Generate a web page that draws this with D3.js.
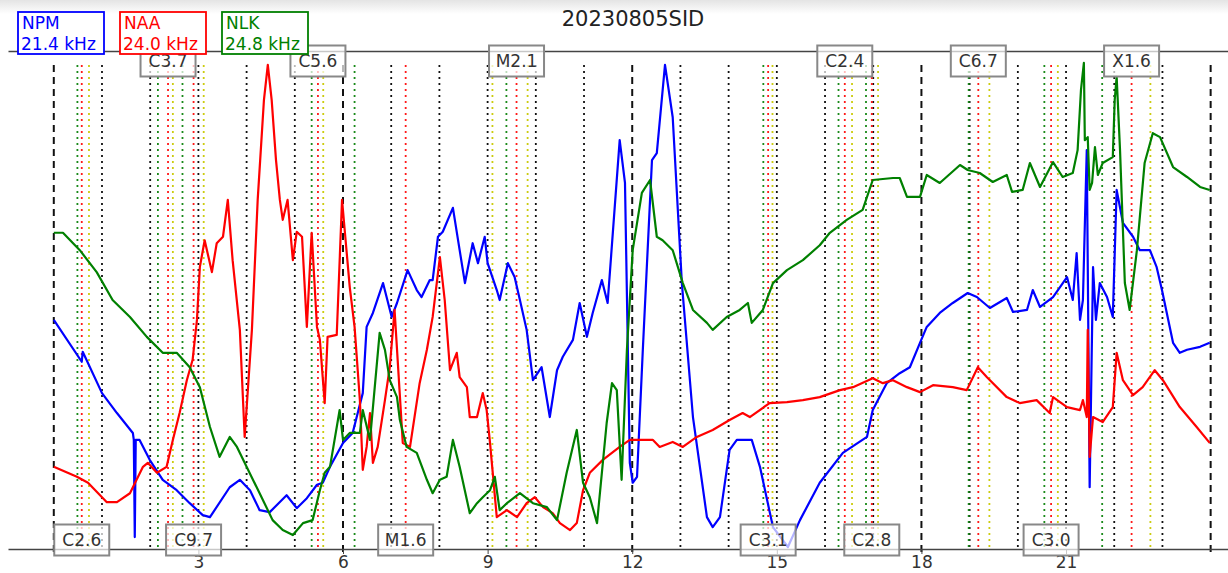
<!DOCTYPE html>
<html>
<head>
<meta charset="utf-8">
<script src="https://cdn.jsdelivr.net/npm/d3@7"></script>
<style>
body { margin: 0; background: #fff; }
svg { display: block; font-family: "DejaVu Sans", sans-serif; }
</style>
</head>
<body>
<script>
var title = "20230805SID";
var hourTicks = [3, 6, 9, 12, 15, 18, 21];
var stations = ["NPM", "NAA", "NLK"];
var freqs = ["21.4 kHz", "24.0 kHz", "24.8 kHz"];
var colors = ["#0000ff", "#ff0000", "#008000"];

// flares of the day, hours UT: begin (green), max (red), end (yellow)
var flareClass = ["C2.6", "C3.7", "C9.7", "C5.6", "M1.6", "M2.1", "C3.1", "C2.4", "C2.8", "C6.7", "C3.0", "X1.6"];
var flareStart = [0.49, 2.16, 2.67, 5.35, 6.24, 9.39, 14.72, 16.28, 16.85, 18.98, 20.55, 21.75];
var flarePeak  = [0.58, 2.37, 2.90, 5.48, 7.30, 9.60, 14.82, 16.41, 16.97, 19.18, 20.69, 22.36];
var flareEnd   = [0.73, 2.47, 3.11, 5.59, 9.10, 9.83, 14.91, 16.56, 17.10, 19.41, 20.83, 22.75];

// [hour, signal]
var npm = [[0,46.0],[0.58,37.6],[0.60,39.6],[1.00,31.3],[1.31,27.3],[1.64,23.3],[1.66,21.9],[1.68,2.4],[1.70,21.9],[1.78,21.9],[1.99,17.9],[2.26,13.9],[2.55,11.8],[2.82,9.2],[3.09,6.8],[3.24,6.4],[3.65,12.4],[3.86,13.9],[4.07,11.8],[4.27,7.8],[4.48,7.4],[4.83,10.8],[5.04,8.2],[5.25,10.2],[5.46,12.9],[5.58,13.3],[5.73,16.5],[6.00,21.3],[6.20,23.3],[6.41,31.3],[6.49,44.6],[6.62,47.4],[6.83,53.4],[7.01,46.6],[7.12,49.4],[7.34,56.0],[7.53,52.0],[7.63,50.6],[7.80,54.0],[7.86,54.0],[7.97,62.7],[8.07,63.7],[8.28,68.5],[8.42,60.0],[8.53,53.4],[8.69,61.4],[8.80,57.4],[8.94,62.7],[9.00,57.4],[9.19,52.0],[9.25,50.0],[9.42,57.4],[9.56,54.6],[9.67,50.0],[9.81,44.0],[9.94,33.9],[10.12,36.5],[10.29,26.5],[10.44,35.9],[10.56,38.6],[10.77,42.0],[10.91,49.4],[11.06,42.6],[11.18,47.4],[11.37,54.0],[11.49,49.4],[11.74,82.1],[11.85,73.5],[11.95,17.3],[12.01,13.3],[12.10,14.5],[12.22,40.0],[12.41,78.1],[12.51,79.5],[12.68,97.2],[12.84,86.7],[13.03,53.4],[13.26,26.5],[13.55,6.4],[13.67,4.4],[13.82,6.4],[14.02,19.9],[14.17,21.9],[14.48,21.9],[14.65,16.5],[14.92,4.4],[15.23,0.4],[15.48,5.8],[15.89,13.3],[16.37,19.3],[16.87,22.5],[16.99,27.9],[17.28,33.3],[17.55,35.3],[17.76,36.5],[17.97,41.4],[18.11,44.6],[18.38,47.4],[18.65,49.4],[18.96,51.4],[19.15,50.6],[19.42,48.4],[19.77,50.4],[19.90,47.6],[20.19,48.0],[20.31,52.0],[20.46,48.6],[20.73,50.6],[21.02,54.6],[21.14,50.0],[21.22,59.4],[21.29,46.0],[21.35,50.0],[21.43,80.1],[21.49,12.4],[21.56,56.6],[21.62,46.0],[21.70,53.4],[21.85,50.6],[21.97,46.6],[22.05,72.1],[22.18,65.5],[22.39,62.7],[22.53,60.0],[22.74,60.0],[22.88,56.6],[22.99,52.0],[23.09,47.4],[23.22,41.4],[23.36,39.4],[23.51,40.0],[23.78,40.6],[23.98,41.4]];

var naa = [[0,16.5],[0.48,14.5],[0.71,13.3],[1.10,9.4],[1.31,9.4],[1.58,11.2],[1.85,16.5],[1.95,17.3],[2.14,15.3],[2.34,16.5],[2.47,21.9],[2.61,27.3],[2.76,33.9],[2.88,38.0],[2.97,46.0],[3.03,56.6],[3.13,62.0],[3.28,55.6],[3.38,61.4],[3.51,62.7],[3.61,70.1],[3.71,58.0],[3.86,44.0],[3.96,22.5],[4.11,44.0],[4.23,70.1],[4.36,90.2],[4.44,97.2],[4.52,90.2],[4.61,78.1],[4.69,70.1],[4.75,66.1],[4.85,70.1],[4.96,58.0],[5.04,63.7],[5.15,62.7],[5.25,44.6],[5.35,63.5],[5.46,44.6],[5.52,42.0],[5.62,29.3],[5.68,42.6],[5.87,43.0],[5.98,70.1],[6.04,63.5],[6.14,52.6],[6.24,44.6],[6.35,29.9],[6.41,15.9],[6.49,20.5],[6.56,27.3],[6.62,17.3],[6.72,20.5],[6.87,29.9],[6.97,36.5],[7.07,48.0],[7.24,21.3],[7.39,20.5],[7.59,33.3],[7.74,40.0],[7.86,46.6],[8.01,58.6],[8.11,50.0],[8.22,35.9],[8.36,39.4],[8.42,34.5],[8.57,32.5],[8.63,26.5],[8.78,26.5],[8.90,31.3],[8.98,27.9],[9.05,21.3],[9.19,6.4],[9.40,7.8],[9.61,6.4],[9.81,9.2],[9.98,10.4],[10.15,8.4],[10.35,7.2],[10.50,5.2],[10.71,3.8],[10.85,5.2],[10.98,11.8],[11.12,15.3],[11.39,17.9],[11.74,20.5],[11.95,21.9],[12.43,21.9],[12.57,20.5],[12.84,21.5],[13.05,20.5],[13.34,22.5],[13.67,23.9],[14.02,25.9],[14.29,27.3],[14.44,26.5],[14.85,29.3],[15.21,29.5],[15.54,29.9],[15.89,30.5],[16.31,31.9],[16.58,32.5],[16.99,34.3],[17.20,33.3],[17.41,33.9],[17.70,32.5],[17.97,31.5],[18.24,32.9],[18.65,32.5],[18.94,31.9],[19.17,36.5],[19.36,34.5],[19.77,30.5],[20.04,29.3],[20.39,29.9],[20.66,27.3],[20.73,30.5],[21.02,28.5],[21.29,27.9],[21.35,29.9],[21.43,26.5],[21.45,44.0],[21.49,18.5],[21.56,26.5],[21.76,25.5],[21.97,28.5],[22.05,39.4],[22.18,33.9],[22.39,30.9],[22.59,32.5],[22.84,35.9],[23.01,33.9],[23.36,28.5],[23.71,24.5],[23.98,21.3]];

var nlk = [[0,63.5],[0.19,63.5],[0.54,60.0],[0.89,55.6],[1.22,50.0],[1.58,46.6],[1.93,42.6],[2.26,39.4],[2.55,39.4],[2.82,36.5],[3.03,32.5],[3.24,24.5],[3.44,18.5],[3.65,22.5],[3.80,20.5],[4.00,16.5],[4.27,11.2],[4.54,5.8],[4.75,3.8],[4.96,2.8],[5.17,5.2],[5.37,5.8],[5.52,11.8],[5.62,15.3],[5.73,16.5],[5.93,27.9],[6.00,21.9],[6.14,23.3],[6.35,23.3],[6.41,27.9],[6.56,21.9],[6.76,43.4],[6.87,40.0],[6.97,33.9],[7.12,30.5],[7.18,25.9],[7.32,20.5],[7.53,19.3],[7.74,13.9],[7.86,11.2],[8.01,13.9],[8.15,14.5],[8.28,21.9],[8.42,16.5],[8.63,7.2],[8.78,9.2],[8.90,10.4],[9.05,11.8],[9.15,14.5],[9.25,7.8],[9.40,9.2],[9.67,11.2],[9.94,9.2],[10.23,8.4],[10.44,5.8],[10.64,15.3],[10.85,23.9],[10.98,13.3],[11.12,10.4],[11.27,5.2],[11.47,25.3],[11.58,33.3],[11.68,31.9],[11.78,13.9],[11.89,40.0],[12.01,60.0],[12.20,71.5],[12.37,74.1],[12.51,62.7],[12.63,62.0],[12.84,60.0],[13.05,53.4],[13.26,48.0],[13.55,45.4],[13.67,44.0],[13.96,46.6],[14.23,48.0],[14.40,49.4],[14.48,45.4],[14.71,48.0],[14.92,53.4],[15.21,56.0],[15.54,58.0],[15.89,61.0],[16.10,63.5],[16.45,66.1],[16.78,68.1],[16.99,74.1],[17.41,74.5],[17.55,74.5],[17.70,70.7],[17.97,70.7],[18.11,75.1],[18.38,73.5],[18.80,77.1],[18.96,76.1],[19.21,75.5],[19.48,73.7],[19.77,75.1],[19.88,71.7],[20.10,72.1],[20.25,77.5],[20.46,72.7],[20.73,77.7],[20.93,74.7],[21.14,75.5],[21.24,80.1],[21.31,92.2],[21.37,97.6],[21.39,82.1],[21.45,82.7],[21.49,72.1],[21.54,73.5],[21.60,80.7],[21.66,75.1],[21.76,77.5],[21.97,78.7],[22.01,90.2],[22.05,94.8],[22.12,80.1],[22.22,53.4],[22.32,48.0],[22.47,60.0],[22.63,77.5],[22.80,83.5],[22.95,82.7],[23.22,76.7],[23.51,74.7],[23.78,72.7],[23.98,72.1]];

var series = [npm, naa, nlk];

var width = 1228, height = 573;

var svg = d3.select("body").append("svg")
  .attr("width", width)
  .attr("height", height);

// grey fade at the very top of the screenshot
var grad = svg.append("defs").append("linearGradient")
  .attr("id", "topfade").attr("x1", 0).attr("y1", 0).attr("x2", 0).attr("y2", 1);
grad.append("stop").attr("offset", "0%").attr("stop-color", "#e4e4e4");
grad.append("stop").attr("offset", "100%").attr("stop-color", "#ffffff");
svg.append("rect").attr("x", 0).attr("y", 0).attr("width", width).attr("height", 14)
  .style("fill", "url(#topfade)");

var x = d3.scaleLinear().domain([-0.95, 24.36]).range([8, 1228]);
var y = d3.scaleLinear().domain([0, 100]).range([549, 51]);

// hour grid: dashed every 6 h, dotted otherwise
var hours = d3.range(0, 25);
svg.selectAll("line.hour").data(hours).enter().append("line")
  .attr("class", "hour")
  .attr("x1", function(d){ return x(d); })
  .attr("x2", function(d){ return x(d); })
  .attr("y1", 65)
  .attr("y2", function(d){ return d % 6 === 0 ? 555 : 550; })
  .style("stroke", "#111")
  .style("stroke-width", function(d){ return d % 6 === 0 ? 2 : 1.8; })
  .style("stroke-dasharray", function(d){ return d % 6 === 0 ? "7,5" : "2,4"; });

var flareLines = [
  {times: flareStart, color: "#1a8a1a"},
  {times: flarePeak, color: "#ff1a1a"},
  {times: flareEnd, color: "#cccc10"}
];
flareLines.forEach(function(f){
  svg.selectAll(null).data(f.times).enter().append("line")
    .attr("x1", function(d){ return x(d); })
    .attr("x2", function(d){ return x(d); })
    .attr("y1", 65)
    .attr("y2", 550)
    .style("stroke", f.color)
    .style("stroke-width", 1.8)
    .style("stroke-dasharray", "2,4");
});

// axes
var xAxis = d3.axisBottom(x).tickValues(hourTicks).tickSize(5).tickPadding(2).tickSizeOuter(0);
var gx = svg.append("g").attr("transform", "translate(0,549)").call(xAxis);
gx.select(".domain").style("stroke", "#444").style("stroke-width", 1.3);
gx.selectAll(".tick line").style("stroke", "#444");
gx.selectAll(".tick text").style("font-size", "17px").style("fill", "#333")
  .style("font-family", "DejaVu Sans");

var gt = svg.append("g").attr("transform", "translate(0,51)")
  .call(d3.axisTop(x).tickValues([]).tickSizeOuter(0));
gt.select(".domain").style("stroke", "#444").style("stroke-width", 1.3);

// signals
var line = d3.line()
  .x(function(d){ return x(d[0]); })
  .y(function(d){ return y(d[1]); });

series.forEach(function(s, i){
  svg.append("path")
    .datum(s)
    .attr("d", line)
    .style("fill", "none")
    .style("stroke", colors[i])
    .style("stroke-width", 2.2)
    .style("stroke-linejoin", "round");
});

// flare class labels, alternating bottom / top
var labels = svg.selectAll("g.flare").data(flareClass).enter().append("g")
  .attr("class", "flare")
  .attr("transform", function(d, i){
    return "translate(" + x(flarePeak[i]) + "," + (i % 2 === 0 ? 540 : 61) + ")";
  });
labels.append("rect")
  .attr("x", -27.5).attr("y", -15.5)
  .attr("width", 55).attr("height", 31)
  .style("fill", "#fff").style("fill-opacity", 0.7)
  .style("stroke", "#888").style("stroke-width", 2);
labels.append("text")
  .attr("text-anchor", "middle")
  .attr("y", 6)
  .style("font-size", "17px")
  .style("fill", "#333")
  .text(function(d){ return d; });

// title
svg.append("text")
  .attr("x", 633).attr("y", 26)
  .attr("text-anchor", "middle")
  .style("font-size", "21px")
  .style("fill", "#222")
  .text(title);

// station legend boxes
var leg = svg.selectAll("g.leg").data(stations).enter().append("g")
  .attr("class", "leg")
  .attr("transform", function(d, i){ return "translate(" + (18 + i * 102) + ",12)"; });
leg.append("rect")
  .attr("width", 86).attr("height", 42)
  .style("fill", "#fff")
  .style("stroke", function(d, i){ return colors[i]; })
  .style("stroke-width", 1.8);
leg.append("text")
  .attr("x", 4).attr("y", 17)
  .style("font-size", "17px")
  .style("fill", function(d, i){ return colors[i]; })
  .text(function(d){ return d; });
leg.append("text")
  .attr("x", 3).attr("y", 38)
  .style("font-size", "17px")
  .style("fill", function(d, i){ return colors[i]; })
  .text(function(d, i){ return freqs[i]; });
</script>
</body>
</html>
